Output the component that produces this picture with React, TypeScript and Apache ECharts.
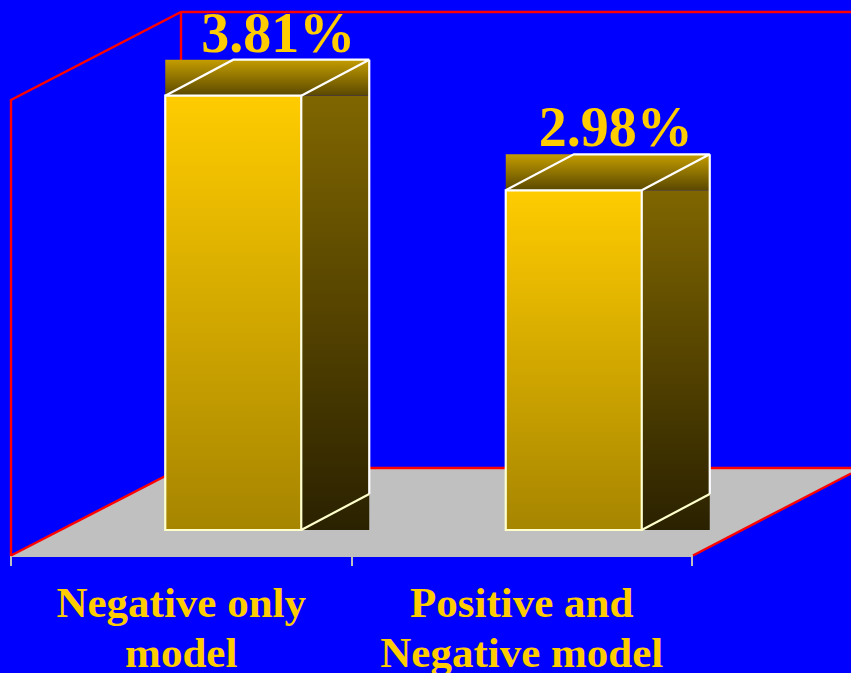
import React, { useEffect, useRef } from "react";
import * as echarts from "echarts";

const categories = ["Negative only\nmodel", "Positive and\nNegative model"];
const errorRates = [3.81, 2.98];

const SERIF = '"Liberation Serif", "Times New Roman", serif';
const GOLD = "#FFCC00";
const RED = "#FF0000";
const FLOOR = "#C0C0C0";
const BLUE = "#0000FF";

// Box geometry, in pixels
const BAR_WIDTH = 136;
const DEPTH_X = 68;
const DEPTH_Y = 36;
const SHIFT_X = -16; // front face's left edge relative to the category centre
const SHIFT_Y = -26; // front face's base relative to the axis line
const LABEL_SHIFT_X = [113, 110]; // value label centre relative to the front face's left edge

const vertical = (top: string, bottom: string) =>
  new echarts.graphic.LinearGradient(0, 0, 0, 1, [
    { offset: 0, color: top },
    { offset: 1, color: bottom },
  ]);

function renderBox(_params: any, api: any) {
  const cat = api.value(0);
  const val = api.value(1);
  const [cx, zeroY] = api.coord([cat, 0]);
  const [, topY] = api.coord([cat, val]);
  const x0 = cx + SHIFT_X;
  const y0 = zeroY + SHIFT_Y;
  const yT = topY + SHIFT_Y;
  const x1 = x0 + BAR_WIDTH;
  const x2 = x1 + DEPTH_X;
  const line = (points: number[][], stroke: string) => ({
    type: "polyline",
    shape: { points },
    style: { fill: "none", stroke, lineWidth: 2.2 },
  });
  return {
    type: "group",
    children: [
      {
        type: "rect",
        shape: { x: x1, y: yT, width: DEPTH_X, height: y0 - yT },
        style: { fill: vertical("#806600", "#2A2100") },
      },
      {
        type: "rect",
        shape: { x: x0, y: yT - DEPTH_Y, width: BAR_WIDTH + DEPTH_X, height: DEPTH_Y },
        style: { fill: vertical("#C49D00", "#5A4800") },
      },
      {
        type: "rect",
        shape: { x: x0, y: yT, width: BAR_WIDTH, height: y0 - yT },
        style: { fill: vertical(GOLD, "#A68500") },
      },
      line(
        [
          [x0, yT],
          [x0 + DEPTH_X, yT - DEPTH_Y],
          [x2, yT - DEPTH_Y],
          [x1, yT],
        ],
        "#FFFFFF"
      ),
      line([[x2, yT - DEPTH_Y], [x2, y0 - DEPTH_Y]], "#FFFFFF"),
      line([[x1, y0], [x2, y0 - DEPTH_Y]], "#FFFFCC"),
      {
        type: "rect",
        shape: { x: x0, y: yT, width: BAR_WIDTH, height: y0 - yT },
        style: { fill: "none", stroke: vertical("#FFFFFF", "#FFFFCC"), lineWidth: 2.2 },
      },
      {
        type: "text",
        style: {
          text: val.toFixed(2) + "%",
          x: x0 + LABEL_SHIFT_X[cat],
          y: yT - DEPTH_Y + 1,
          textAlign: "center",
          textVerticalAlign: "bottom",
          font: `bold 56px ${SERIF}`,
          fill: GOLD,
        },
      },
    ],
  };
}

const redLine = (points: number[][]) => ({
  type: "polyline",
  z: 1,
  shape: { points },
  style: { fill: "none", stroke: RED, lineWidth: 2.4 },
});

export default function App() {
  const ref = useRef<HTMLDivElement>(null);

  useEffect(() => {
    document.body.style.margin = "0";
    const chart = echarts.init(ref.current!, null, { renderer: "svg" });
    chart.setOption({
      animation: false,
      backgroundColor: BLUE,
      grid: { left: 11, top: 100, width: 681, height: 456, outerBoundsMode: "none" },
      xAxis: {
        type: "category",
        data: categories,
        axisLine: { show: true, lineStyle: { color: FLOOR, width: 2 } },
        axisTick: { show: true, length: 10, lineStyle: { color: FLOOR, width: 2 } },
        axisLabel: {
          color: GOLD,
          margin: 21,
          fontFamily: SERIF,
          fontWeight: "bold",
          fontSize: 43,
          lineHeight: 50,
          interval: 0,
        },
      },
      yAxis: { type: "value", min: 0, max: 4, show: false },
      graphic: [
        {
          type: "polygon",
          z: 0,
          shape: {
            points: [
              [11, 556],
              [181, 468],
              [851, 468],
              [851, 473.5],
              [693, 555.5],
              [693, 557],
              [11, 557],
            ],
          },
          style: { fill: FLOOR },
        },
        redLine([[11, 556], [11, 100], [181, 12], [851, 12]]),
        redLine([[181, 12], [181, 468], [851, 468]]),
        redLine([[11, 555.5], [181, 468]]),
        redLine([[693, 555.5], [851, 473.5]]),
      ],
      series: [
        {
          type: "custom",
          renderItem: renderBox,
          clip: false,
          z: 5,
          encode: { x: 0, y: 1 },
          data: errorRates.map((v, i) => [i, v]),
        },
      ],
    });
    return () => chart.dispose();
  }, []);

  return <div ref={ref} style={{ position: "absolute", left: 0, top: 0, width: 851, height: 673 }} />;
}
